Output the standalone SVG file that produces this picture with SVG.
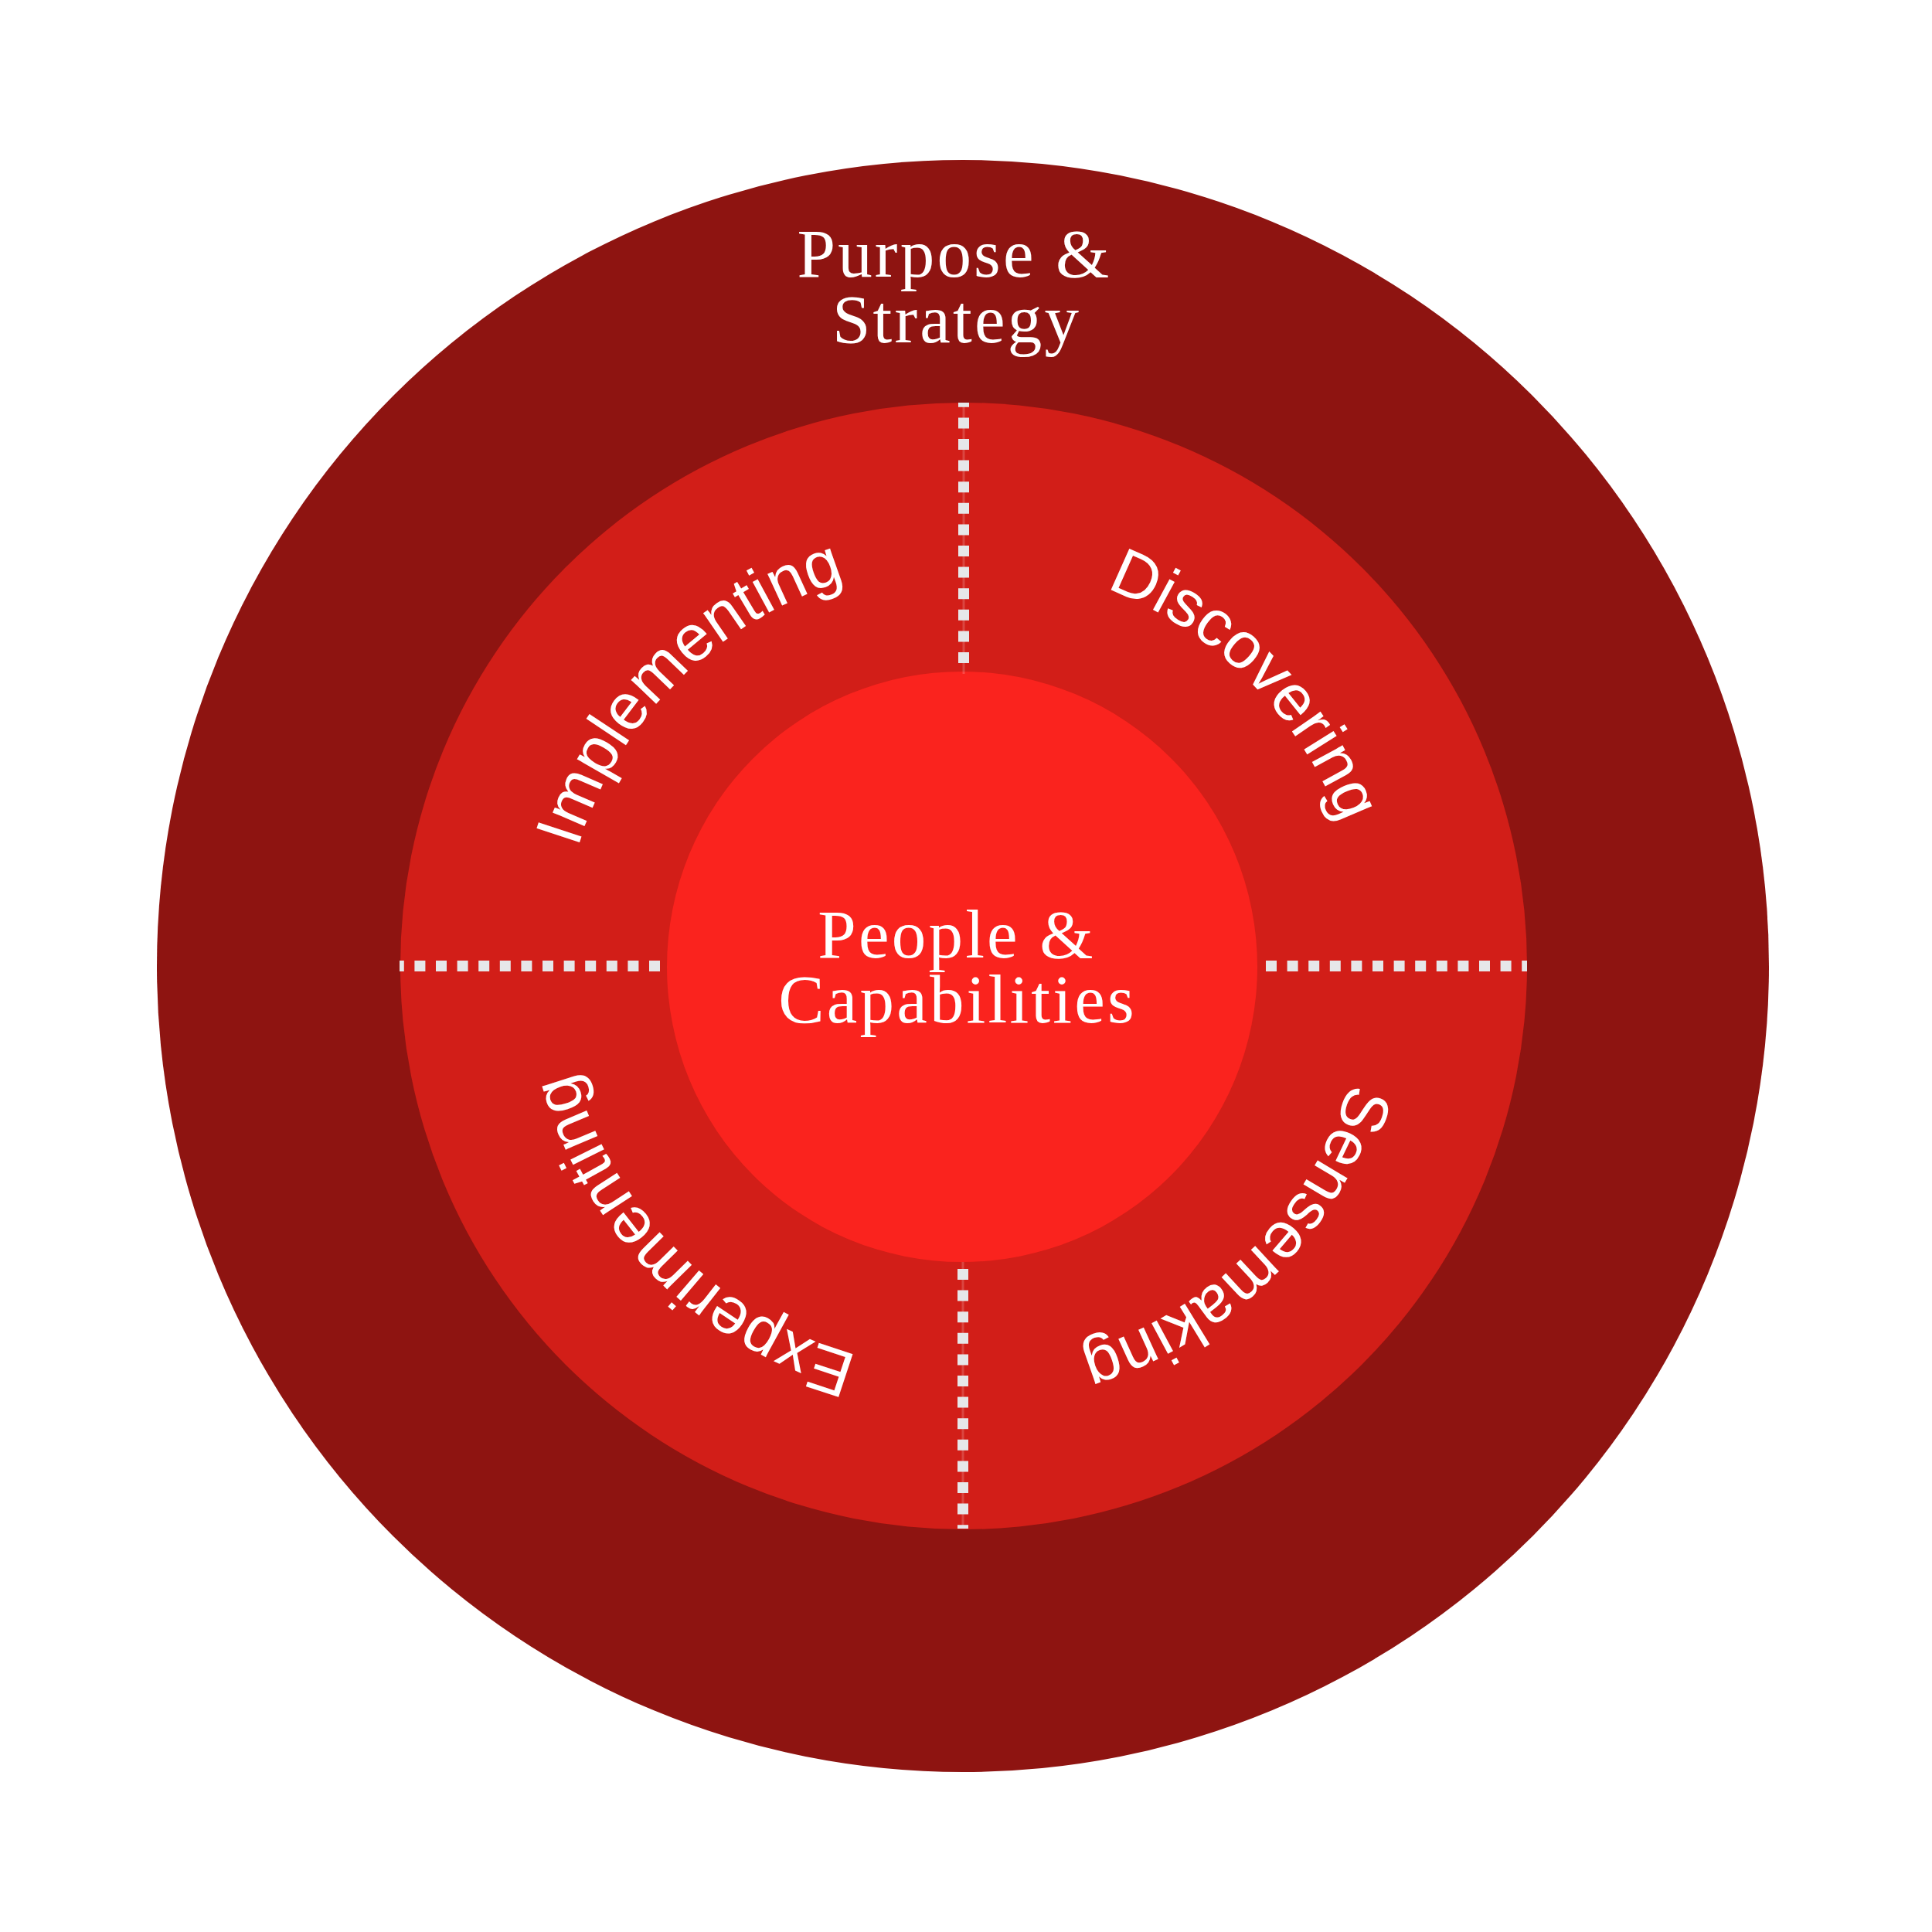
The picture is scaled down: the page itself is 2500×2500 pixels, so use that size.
<svg xmlns="http://www.w3.org/2000/svg" xmlns:xlink="http://www.w3.org/1999/xlink" width="2500" height="2500" viewBox="0 0 2500 2500">
<style>
.title{font-family:"Liberation Serif","Times New Roman",serif;font-size:89px;fill:#ffffff;text-anchor:middle;letter-spacing:3.2px}
.arc{font-family:"Liberation Sans",Arial,sans-serif;font-size:85px;fill:#ffffff;text-anchor:middle}
.dots{stroke:#E6E7E9;stroke-width:14;stroke-dasharray:14 13.6;fill:none}
.faint{stroke:#ffffff;stroke-opacity:0.18;stroke-width:3}
</style>
<defs>
<path id="ring" d="M 1247,728 A 522 522 0 1 1 1247,1772 A 522 522 0 1 1 1247,728"/>
</defs>
<rect width="2500" height="2500" fill="#ffffff"/>
<g id="outer">
<circle cx="1246" cy="1250" r="1043" fill="#8E1411"/>
<text class="title" x="1235" y="358">Purpose &amp;</text>
<text class="title" x="1238" y="443">Strategy</text>
</g>
<g id="middle">
<circle cx="1247" cy="1250" r="729" fill="#D21E18"/>
</g>
<g id="inner">
<circle cx="1245" cy="1251" r="382" fill="#FA231E"/>
<text class="title" x="1238" y="1239">People &amp;</text>
<text class="title" x="1239" y="1323">Capabilities</text>
</g>
<g id="connectors">
<line class="faint" x1="1247" y1="521" x2="1247" y2="872"/>
<line class="faint" x1="1246" y1="1633" x2="1246" y2="1978"/>
<line class="dots" x1="1247" y1="858" x2="1247" y2="521"/>
<line class="dots" x1="1246" y1="1642" x2="1246" y2="1978"/>
<line class="dots" x1="854" y1="1250" x2="517" y2="1250"/>
<line class="dots" x1="1638" y1="1250" x2="1976" y2="1250"/>
</g>
<g id="discovering"><text class="arc"><textPath xlink:href="#ring" href="#ring" startOffset="12.5%">Discovering</textPath></text></g>
<g id="sensemaking"><text class="arc"><textPath xlink:href="#ring" href="#ring" startOffset="37.5%">Sensemaking</textPath></text></g>
<g id="experimenting"><text class="arc"><textPath xlink:href="#ring" href="#ring" startOffset="62.5%">Experimenting</textPath></text></g>
<g id="implementing"><text class="arc"><textPath xlink:href="#ring" href="#ring" startOffset="87.5%">Implementing</textPath></text></g>
</svg>
